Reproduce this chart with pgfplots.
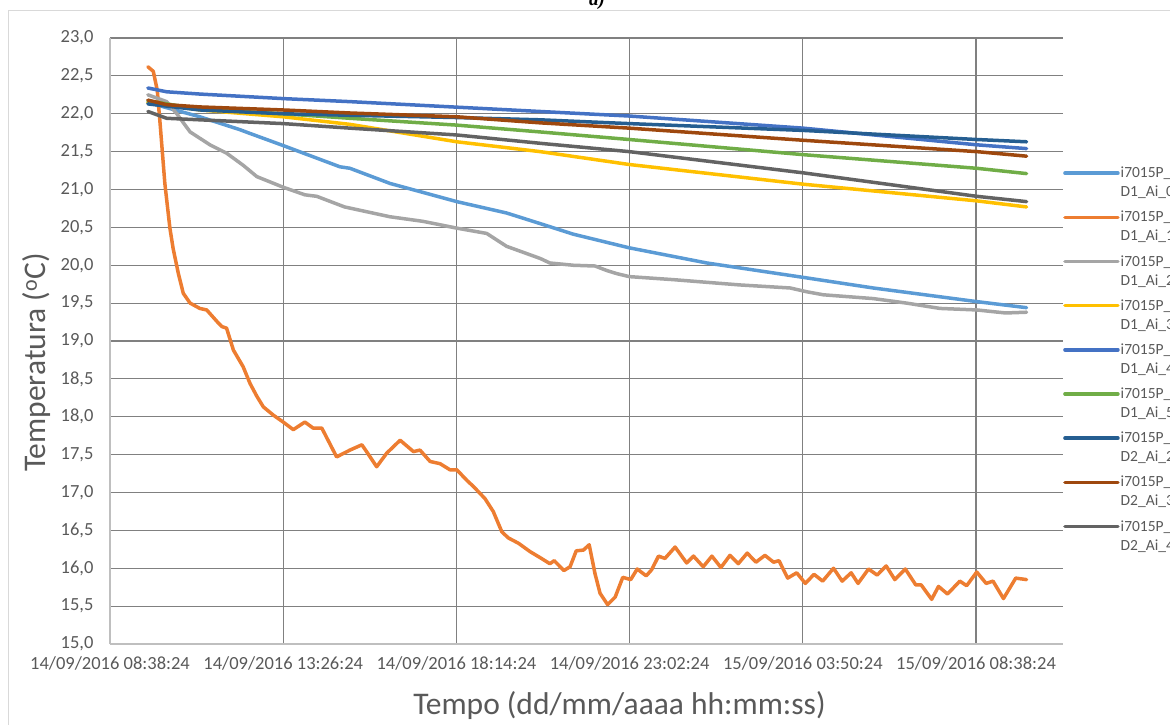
\documentclass[border=0pt]{standalone}
\usepackage{pgfplots}
\pgfplotsset{compat=1.18}
\usepackage{fontspec}
\setmainfont{Carlito}
\newfontfamily\timesf{Liberation Serif}
\definecolor{c0}{RGB}{91,155,213}
\definecolor{c1}{RGB}{237,125,49}
\definecolor{c2}{RGB}{165,165,165}
\definecolor{c3}{RGB}{255,192,0}
\definecolor{c4}{RGB}{68,114,196}
\definecolor{c5}{RGB}{112,173,71}
\definecolor{c6}{RGB}{37,94,145}
\definecolor{c7}{RGB}{158,72,14}
\definecolor{c8}{RGB}{99,99,99}
\definecolor{txt}{RGB}{89,89,89}
\definecolor{gridc}{RGB}{128,128,128}
\definecolor{axc}{RGB}{191,191,191}
\definecolor{framec}{RGB}{217,217,217}
\begin{document}
\begin{tikzpicture}
\draw[framec, line width=1.5pt] (8.5pt,713.5pt) rectangle (1200pt,-20pt);
\node[anchor=base west, inner sep=0pt, font=\timesf\bfseries\itshape\fontsize{19}{22}\selectfont] at (589pt,718pt) {a)};
\begin{axis}[
  at={(110pt,80pt)}, anchor=south west,
  scale only axis, width=953pt, height=606pt,
  xmin=0, xmax=26.41, ymin=15, ymax=23,
  enlargelimits=false,
  axis x line*=bottom, axis y line*=left,
  axis line style={-, draw=axc, line width=2pt},
  xtick={4.8,9.6,14.4,19.2,24},
  xticklabels={14/09/2016 13:26:24,14/09/2016 18:14:24,14/09/2016 23:02:24,15/09/2016 03:50:24,15/09/2016 08:38:24},
  extra x ticks={0},
  extra x tick labels={14/09/2016 08:38:24},
  extra x tick style={grid=none},
  ytick={15.5,16,...,23},
  extra y ticks={15},
  extra y tick style={grid=none},
  grid=major,
  major grid style={draw=gridc, line width=1.2pt},
  tick style={draw=none},
  /pgf/number format/fixed,
  /pgf/number format/fixed zerofill,
  /pgf/number format/precision=1,
  /pgf/number format/use comma,
  /pgf/number format/assume math mode=true,
  ticklabel style={font=\fontsize{18.5}{22}\selectfont, text=txt},
  yticklabel style={xshift=-13pt},
  xticklabel style={yshift=-9pt},
  xlabel={Tempo (dd/mm/aaaa hh:mm:ss)},
  ylabel={Temperatura (\textsuperscript{o}C)},
  label style={font=\fontsize{31.5}{36}\selectfont, text=txt},
  xlabel style={at={(axis description cs:0.5346,-0.1007)}, anchor=center},
  ylabel style={at={(axis description cs:-0.0766,0.4645)}, anchor=center},
  legend style={at={(axis description cs:1.0,0.789)}, anchor=north west,
    draw=none, fill=none, inner sep=0pt, row sep=11pt,
    font=\fontsize{15.5}{19}\selectfont, text=txt,
    nodes={inner sep=1pt},
    /tikz/every even column/.append style={column sep=4pt}},
  legend cell align=left,
  legend style={cells={align=left}},
  legend image code/.code={\draw[#1] (0pt,9.5pt) -- (53pt,9.5pt);},
  every axis plot/.append style={line width=3.5pt, line join=round, line cap=round},
]
\addplot[c0] coordinates {(1.05,22.15)(1.57,22.08)(2.49,21.96)(3.60,21.79)(3.88,21.74)(4.80,21.58)(6.37,21.30)(6.65,21.28)(7.76,21.08)(9.61,20.84)(10.99,20.69)(11.92,20.55)(12.84,20.41)(14.39,20.23)(16.54,20.03)(19.21,19.84)(21.15,19.70)(24.02,19.52)(25.40,19.44)};
\addlegendentry{i7015P\_\\D1\_Ai\_0}
\addplot[c1] coordinates {(1.05,22.62)(1.20,22.56)(1.31,22.31)(1.39,21.86)(1.52,21.08)(1.66,20.49)(1.75,20.22)(1.89,19.90)(2.03,19.63)(2.22,19.50)(2.49,19.43)(2.68,19.41)(2.96,19.26)(3.10,19.19)(3.23,19.17)(3.42,18.88)(3.69,18.66)(3.88,18.44)(4.07,18.27)(4.25,18.13)(4.53,18.02)(4.80,17.93)(5.08,17.83)(5.40,17.93)(5.63,17.85)(5.87,17.85)(6.28,17.47)(6.65,17.56)(6.98,17.63)(7.11,17.54)(7.39,17.34)(7.67,17.52)(8.04,17.69)(8.41,17.54)(8.59,17.56)(8.87,17.41)(9.15,17.38)(9.42,17.30)(9.61,17.30)(9.89,17.16)(10.07,17.08)(10.39,16.92)(10.62,16.75)(10.86,16.48)(11.04,16.40)(11.32,16.33)(11.64,16.22)(11.92,16.14)(12.19,16.06)(12.31,16.10)(12.58,15.97)(12.75,16.02)(12.92,16.23)(13.12,16.24)(13.28,16.31)(13.44,15.93)(13.58,15.67)(13.79,15.52)(14.00,15.62)(14.21,15.88)(14.43,15.85)(14.61,15.99)(14.86,15.90)(15.01,15.98)(15.20,16.16)(15.38,16.13)(15.66,16.28)(15.98,16.07)(16.17,16.16)(16.44,16.02)(16.68,16.16)(16.93,16.01)(17.18,16.17)(17.41,16.06)(17.66,16.20)(17.90,16.08)(18.15,16.17)(18.39,16.08)(18.54,16.10)(18.78,15.87)(19.03,15.94)(19.27,15.80)(19.51,15.92)(19.75,15.83)(20.05,16.00)(20.29,15.83)(20.54,15.94)(20.73,15.80)(21.02,15.99)(21.26,15.91)(21.51,16.03)(21.75,15.85)(22.04,15.99)(22.33,15.78)(22.48,15.78)(22.77,15.59)(22.96,15.76)(23.21,15.66)(23.55,15.83)(23.74,15.77)(24.02,15.95)(24.28,15.80)(24.47,15.83)(24.76,15.60)(25.10,15.87)(25.40,15.85)};
\addlegendentry{i7015P\_\\D1\_Ai\_1}
\addplot[c2] coordinates {(1.05,22.25)(1.57,22.16)(1.85,22.00)(2.22,21.76)(2.77,21.59)(3.23,21.48)(3.69,21.32)(4.07,21.17)(4.80,21.03)(5.40,20.93)(5.73,20.91)(6.50,20.77)(7.76,20.64)(8.67,20.58)(9.61,20.49)(10.44,20.42)(10.99,20.25)(11.92,20.09)(12.19,20.03)(12.84,20.00)(13.44,19.99)(13.77,19.93)(14.04,19.89)(14.39,19.85)(15.61,19.81)(17.46,19.74)(18.85,19.70)(19.31,19.65)(19.77,19.61)(21.15,19.56)(22.08,19.50)(23.00,19.43)(24.02,19.41)(24.82,19.37)(25.40,19.38)};
\addlegendentry{i7015P\_\\D1\_Ai\_2}
\addplot[c3] coordinates {(1.05,22.15)(2.49,22.05)(4.80,21.96)(6.65,21.86)(9.61,21.63)(11.92,21.50)(14.39,21.33)(19.21,21.07)(24.02,20.85)(25.40,20.77)};
\addlegendentry{i7015P\_\\D1\_Ai\_3}
\addplot[c4] coordinates {(1.05,22.34)(1.57,22.29)(2.49,22.26)(4.80,22.20)(6.65,22.16)(11.92,22.03)(14.39,21.97)(19.21,21.81)(24.02,21.59)(25.40,21.54)};
\addlegendentry{i7015P\_\\D1\_Ai\_4}
\addplot[c5] coordinates {(1.05,22.17)(2.49,22.06)(4.80,22.00)(6.65,21.94)(9.61,21.85)(11.92,21.76)(14.39,21.66)(19.21,21.46)(24.02,21.28)(25.40,21.21)};
\addlegendentry{i7015P\_\\D1\_Ai\_5}
\addplot[c6] coordinates {(1.05,22.13)(2.49,22.05)(4.80,22.00)(6.65,21.98)(9.61,21.95)(11.92,21.92)(14.39,21.87)(19.21,21.78)(24.02,21.66)(25.40,21.63)};
\addlegendentry{i7015P\_\\D2\_Ai\_2}
\addplot[c7] coordinates {(1.05,22.18)(1.57,22.12)(2.49,22.09)(4.80,22.05)(6.65,22.01)(9.61,21.96)(11.92,21.88)(14.39,21.81)(19.21,21.65)(24.02,21.50)(25.40,21.44)};
\addlegendentry{i7015P\_\\D2\_Ai\_3}
\addplot[c8] coordinates {(1.05,22.03)(1.57,21.94)(2.49,21.92)(4.80,21.87)(6.65,21.81)(9.61,21.72)(11.92,21.61)(14.39,21.50)(19.21,21.22)(24.02,20.91)(25.40,20.84)};
\addlegendentry{i7015P\_\\D2\_Ai\_4}
\end{axis}
\pgfresetboundingbox
\useasboundingbox (0,0) rectangle (1170pt,724pt);
\end{tikzpicture}
\end{document}
